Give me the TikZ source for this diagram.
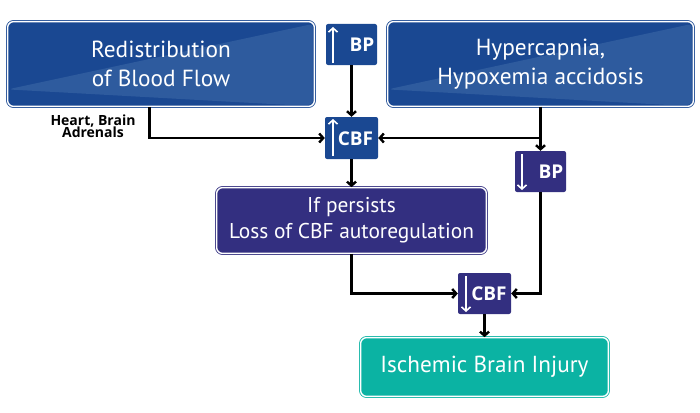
\documentclass[tikz,border=0pt]{standalone}
\usepackage{fontspec}
\setmainfont{PT Sans}
\newfontfamily\labelfont{Open Sans}
\usetikzlibrary{arrows.meta,calc}
\definecolor{bluedark}{HTML}{1A4892}
\definecolor{bluelight}{HTML}{2E5B9E}
\definecolor{indigobox}{HTML}{332F80}
\definecolor{tealbox}{HTML}{0BB3A3}
\begin{document}
\begin{tikzpicture}[x=1pt,y=-1pt,
  bigbox/.style={rounded corners=6pt, draw=#1, fill=#1, line width=0.8pt,
    double=white, double distance=1.4pt, text=white, align=center, inner sep=0pt},
  diag/.style={path picture={\fill[bluelight]
      ($(path picture bounding box.south west)+(0pt,17pt)$) --
      ($(path picture bounding box.north east)+(0pt,-2pt)$) --
      (path picture bounding box.south east) -- cycle;}},
  smallbox/.style={rounded corners=2pt, fill=#1, inner sep=0pt,
    minimum width=52pt, minimum height=42pt},
  boxlabel/.style={text=white, font=\labelfont\bfseries\fontsize{19}{21}\selectfont, inner sep=0pt},
  innerarrow/.style={draw=white, line width=1.6pt, -{Straight Barb[length=4pt,width=9pt]}},
  conn/.style={line width=2.4pt, -{Straight Barb[length=4pt,width=9pt]}},
]
\useasboundingbox (0,0) rectangle (700,412);

% big boxes
\node[bigbox=bluedark, diag, minimum width=306.8pt, minimum height=84.8pt,
  font=\fontsize{23.3}{29}\selectfont] (b1) at (161,64)
  {Redistribution\\of Blood Flow};
\node[bigbox=bluedark, diag, minimum width=305.8pt, minimum height=84.8pt,
  font=\fontsize{23.3}{29}\selectfont] (b2) at (540.5,64)
  {Hypercapnia,\\Hypoxemia accidosis};
\node[bigbox=indigobox, minimum width=269.8pt, minimum height=65.8pt,
  font=\fontsize{21.4}{26}\selectfont] (persist) at (351.5,220.5)
  {If persists\\Loss of CBF autoregulation};
\node[bigbox=tealbox, minimum width=247.8pt, minimum height=58.8pt,
  font=\fontsize{23.2}{26}\selectfont] (isch) at (484.5,367)
  {Ischemic Brain Injury};

% small boxes
\node[smallbox=bluedark, minimum width=51pt, minimum height=41pt] (bpu) at (351.5,44.5) {};
\node[smallbox=bluedark, minimum width=53pt, minimum height=42pt] (cbfu) at (351.5,138) {};
\node[smallbox=indigobox, minimum width=51pt, minimum height=41pt] (bpd) at (540.5,171.5) {};
\node[smallbox=indigobox, minimum width=53pt, minimum height=41pt] (cbfd) at (484.5,293.5) {};

\node[boxlabel] (bpuT) at (362,44.5) {BP};
\node[boxlabel] (cbfuT) at (355.5,138.5) {CBF};
\node[boxlabel] (bpdT) at (551,172) {BP};
\node[boxlabel] (cbfdT) at (489,294) {CBF};

\coordinate (bpuA1) at (333,63); \coordinate (bpuA2) at (333,27);
\coordinate (cbfuA1) at (333,156); \coordinate (cbfuA2) at (333,119);
\coordinate (bpdA1) at (522,154); \coordinate (bpdA2) at (522,190);
\coordinate (cbfdA1) at (466,276); \coordinate (cbfdA2) at (466,312);
\draw[innerarrow] (bpuA1) -- (bpuA2);
\draw[innerarrow] (cbfuA1) -- (cbfuA2);
\draw[innerarrow] (bpdA1) -- (bpdA2);
\draw[innerarrow] (cbfdA1) -- (cbfdA2);

\node[font=\labelfont\bfseries\fontsize{14}{12.5}\selectfont, align=center, inner sep=0pt] (organs)
  at (93,126) {Heart, Brain\\Adrenals};

% connectors
\coordinate (b1out) at ($(b1.south west)!0.462!(b1.south east)$);
\draw[conn] (b1out) |- (cbfu);
\draw[conn] (bpu) -- (cbfu);
\draw[conn] (b2.south) |- (cbfu);
\draw[conn] (b2.south) -- (bpd);
\draw[conn] (cbfu) -- (persist);
\draw[conn] (persist.south) |- (cbfd);
\draw[conn] (bpd.south) |- (cbfd);
\draw[conn] (cbfd) -- (isch);
\end{tikzpicture}
\end{document}
